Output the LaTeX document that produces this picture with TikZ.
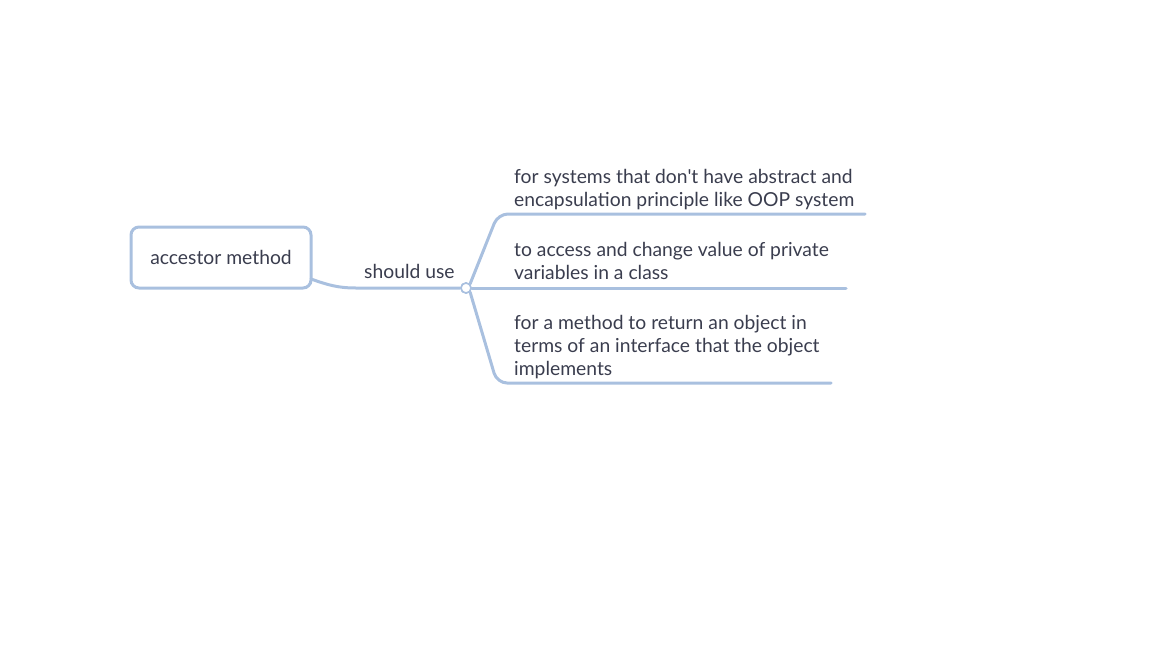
\documentclass[tikz,border=0pt]{standalone}
\usepackage{fontspec}
\newfontfamily\mapfont{Lato}
\begin{document}
\begin{tikzpicture}[x=1pt,y=-1pt,
  conn/.style={draw=linec, line width=3pt, line cap=round},
  txt/.style={text=textc, font=\mapfont\fontsize{19.3}{23}\selectfont, inner sep=0pt, anchor=base west, align=left},
]
\definecolor{linec}{HTML}{A9C0DF}
\definecolor{textc}{HTML}{3A3D4E}
\useasboundingbox (0,0) rectangle (1152,648);
% root
\node[draw=linec, line width=3pt, rounded corners=8pt, minimum width=180pt, minimum height=61pt, inner sep=0pt, text=textc, font=\mapfont\fontsize{19.3}{23}\selectfont] (root) at (221,257.5) {\raisebox{-1.5pt}{accestor method}};
% hub
\coordinate (h0) at (356,288);
\node[circle, draw=linec, fill=white, line width=1.6pt, minimum size=10pt, inner sep=0pt] (hub) at (466,288) {};
\coordinate (rootout) at (311,279);
\draw[conn] (rootout) .. controls (328,285) and (338,288) .. (h0) -- (hub.west);
\node[txt] (lbl) at (364,278) {should use};
% branches
\coordinate (t1) at (498,214);
\coordinate (t2) at (865,214);
\coordinate (m2) at (846,288);
\coordinate (b1) at (497,383);
\coordinate (b2) at (831,383);
\draw[conn, rounded corners=10pt] (hub.north east) -- (t1) -- (t2);
\draw[conn] (hub.east) -- (m2);
\draw[conn, rounded corners=10pt] (hub.south east) -- (b1) -- (b2);
\node[circle, draw=linec, fill=white, line width=1.6pt, minimum size=10pt, inner sep=0pt] at (hub) {};
% texts
\node[txt] (c1) at (514,206) {for systems that don't have abstract and\\encapsulation principle like OOP system};
\node[txt] (c2) at (514,279) {to access and change value of private\\variables in a class};
\node[txt] (c3) at (514,375) {for a method to return an object in\\terms of an interface that the object\\implements};
\end{tikzpicture}
\end{document}
